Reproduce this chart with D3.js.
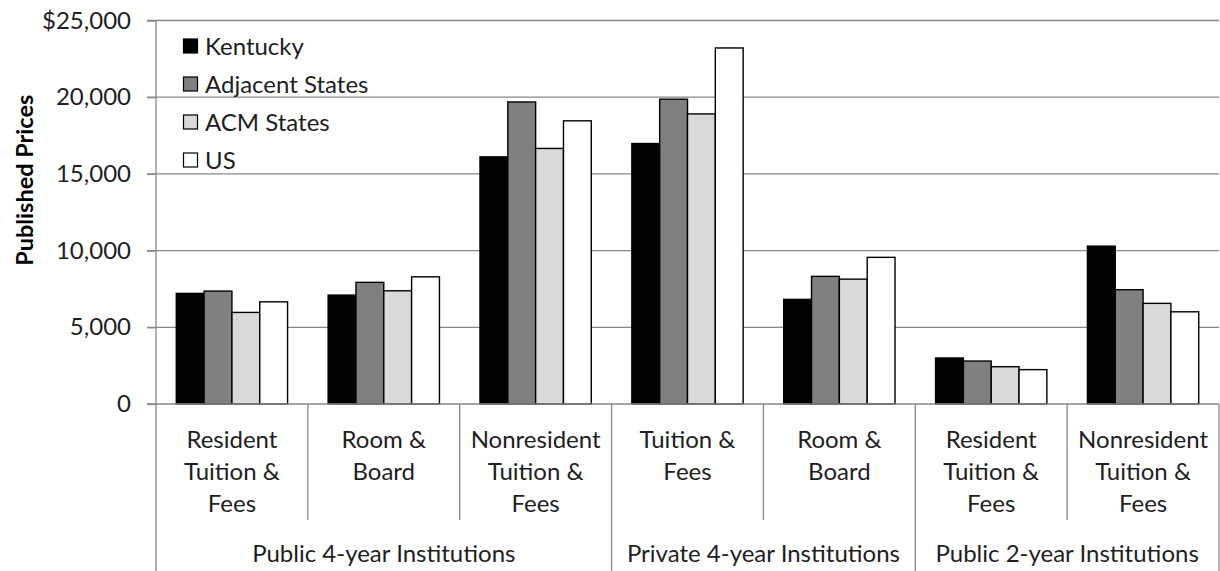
<!DOCTYPE html>
<html><head><meta charset="utf-8">
<script src="https://cdnjs.cloudflare.com/ajax/libs/d3/7.8.5/d3.min.js"></script>
<style>
html,body{margin:0;padding:0;background:#fff;}
svg{display:block;font-family:Lato, "Open Sans", sans-serif;}
</style></head>
<body><svg id="c" width="1220" height="571"></svg>
<script>
const series = ["Kentucky", "Adjacent States", "ACM States", "US"];
const colors = ["#020202", "#808080", "#d9d9d9", "#ffffff"];
const categories = [
  ["Resident", "Tuition &", "Fees"],
  ["Room &", "Board"],
  ["Nonresident", "Tuition &", "Fees"],
  ["Tuition &", "Fees"],
  ["Room &", "Board"],
  ["Resident", "Tuition &", "Fees"],
  ["Nonresident", "Tuition &", "Fees"]
];
const groups = ["Public 4-year Institutions", "Private 4-year Institutions", "Public 2-year Institutions"];
const groupSizes = [3, 2, 2];
const kentucky = [7210, 7100, 16110, 16980, 6820, 3000, 10290];
const adjacent = [7360, 7930, 19690, 19870, 8320, 2800, 7450];
const acm = [5970, 7380, 16660, 18910, 8140, 2430, 6560];
const us = [6660, 8290, 18460, 23210, 9560, 2240, 6010];
const yTicks = [0, 5000, 10000, 15000, 20000, 25000];
const yTickLabels = ["0", "5,000", "10,000", "15,000", "20,000", "$25,000"];
const values = [kentucky, adjacent, acm, us];

const svg = d3.select("#c");
const L = 156, R = 1219, T = 20.5, B = 404;
const FS = 24;
const y = d3.scaleLinear().domain([0, 25000]).range([B, T]);
const x0 = d3.scaleBand().domain(d3.range(categories.length)).range([L, R]).padding(0);
const bw = x0.bandwidth();
const gapSide = bw * 0.1335;
const x1 = d3.scaleBand().domain(series).range([gapSide, bw - gapSide]).padding(0);
const gridColor = "#878787";
const textColor = "#1e1e1e";

// gridlines
svg.append("g").selectAll("line").data(yTicks.filter(d => d > 0)).join("line")
  .attr("x1", L - 9).attr("x2", R).attr("y1", d => y(d)).attr("y2", d => y(d))
  .attr("stroke", gridColor).attr("stroke-width", 1.3);

// y axis
const yAxis = d3.axisLeft(y).tickValues(yTicks).tickSize(9).tickPadding(16)
  .tickFormat((d, i) => yTickLabels[i]);
const ga = svg.append("g").attr("transform", `translate(${L},0)`).call(yAxis);
ga.select(".domain").remove();
ga.selectAll(".tick line").attr("stroke", gridColor).attr("stroke-width", 1.3);
ga.selectAll(".tick text").attr("font-size", FS).attr("fill", textColor)
  .attr("font-family", "Lato, sans-serif");
svg.append("line").attr("x1", L).attr("x2", L).attr("y1", T).attr("y2", 571)
  .attr("stroke", gridColor).attr("stroke-width", 1.3);

// y title
svg.append("text").attr("transform", `translate(33,${(T + B) / 2 - 32}) rotate(-90)`)
  .attr("text-anchor", "middle").attr("font-size", 23.5).attr("font-weight", "bold")
  .attr("fill", "#000").text("Published Prices");

// bars
series.forEach((s, si) => {
  svg.append("g").selectAll("rect").data(values[si]).join("rect")
    .attr("x", (d, i) => x0(i) + x1(s))
    .attr("y", d => y(d))
    .attr("width", x1.bandwidth())
    .attr("height", d => B - y(d))
    .attr("fill", colors[si])
    .attr("stroke", "#000").attr("stroke-width", 1.4);
});

// baseline
svg.append("line").attr("x1", L - 9).attr("x2", R).attr("y1", B).attr("y2", B)
  .attr("stroke", gridColor).attr("stroke-width", 1.3);

// category separators
let boundaries = [0];
groupSizes.reduce((acc, n) => { boundaries.push(acc + n); return acc + n; }, 0);
d3.range(1, categories.length + 1).forEach(i => {
  const full = boundaries.includes(i);
  const xx = i === categories.length ? R : x0(i);
  svg.append("line").attr("x1", xx).attr("x2", xx).attr("y1", B).attr("y2", full ? 571 : 520)
    .attr("stroke", gridColor).attr("stroke-width", 1.3);
});

// category labels
const catG = svg.append("g");
categories.forEach((lines, i) => {
  const t = catG.append("text").attr("text-anchor", "middle").attr("font-size", FS)
    .attr("fill", textColor);
  lines.forEach((ln, k) => {
    t.append("tspan").attr("x", x0(i) + bw / 2).attr("y", 448 + k * 32).text(ln);
  });
});

// group labels
groups.forEach((g, gi) => {
  const a = boundaries[gi], b = boundaries[gi + 1];
  const xa = x0(a), xb = b === categories.length ? R : x0(b);
  svg.append("text").attr("x", (xa + xb) / 2).attr("y", 562).attr("text-anchor", "middle")
    .attr("font-size", FS).attr("fill", textColor).text(g);
});

// legend
const lg = svg.append("g");
series.forEach((s, si) => {
  const cy = 46 + si * 38;
  lg.append("rect").attr("x", 183.5).attr("y", cy - 7).attr("width", 14).attr("height", 14)
    .attr("fill", colors[si]).attr("stroke", "#000").attr("stroke-width", 1.2);
  lg.append("text").attr("x", 205).attr("y", cy).attr("dy", "0.36em")
    .attr("font-size", FS).attr("fill", textColor).text(s);
});
</script></body></html>
